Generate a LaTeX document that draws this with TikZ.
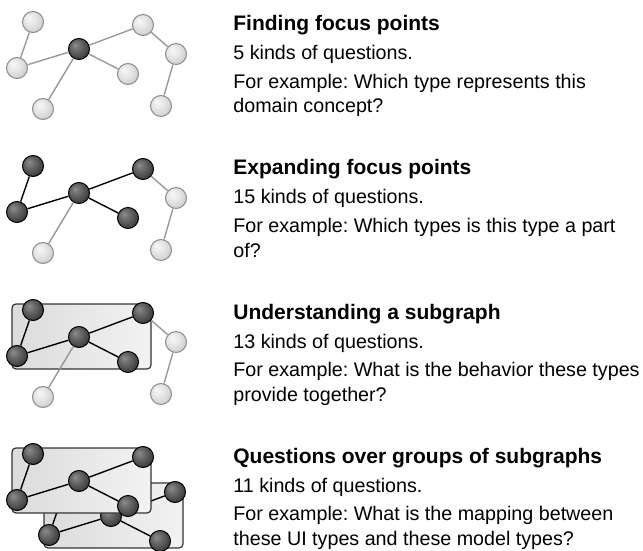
\documentclass[tikz,border=0pt]{standalone}
\usepackage{fontspec}
\setmainfont{Liberation Sans}
\usepackage{tikz}
\frenchspacing

\pgfdeclareradialshading{darkball}{\pgfpoint{-10bp}{10bp}}{color(0bp)=(black!45); color(15bp)=(black!62); color(30bp)=(black!78); color(50bp)=(black!85)}
\pgfdeclareradialshading{lightball}{\pgfpoint{-10bp}{10bp}}{color(0bp)=(black!3); color(15bp)=(black!10); color(30bp)=(black!20); color(50bp)=(black!28)}

\begin{document}
\begin{tikzpicture}[x=0.5pt,y=-0.5pt,
	dark/.style={shape=circle,draw=black,line width=0.5pt,shade,shading=darkball,minimum size=10.5pt,inner sep=0pt},
	light/.style={shape=circle,draw=black!45,line width=0.5pt,shade,shading=lightball,minimum size=10.5pt,inner sep=0pt},
	strong/.style={draw=black,line width=0.7pt},
	faint/.style={draw=black!40,line width=0.7pt},
	group/.style={draw=black!80,line width=0.6pt,rounded corners=2pt,left color=black!14,right color=black!5},
	title/.style={font=\fontsize{10.5}{12.5}\selectfont\bfseries,inner sep=0pt,anchor=base west},
	body/.style={font=\fontsize{9.85}{12.5}\selectfont,inner sep=0pt,anchor=base west,align=left}]
	\useasboundingbox (0,0) rectangle (643,551);

	% finding focus points
	\node[light] (a1) at (33, 22)   {};
	\node[light] (b1) at (17, 68)   {};
	\node[dark]  (c1) at (79, 49)   {};
	\node[light] (d1) at (143, 25)  {};
	\node[light] (e1) at (176, 54)  {};
	\node[light] (f1) at (128, 74)  {};
	\node[light] (g1) at (43, 109)  {};
	\node[light] (h1) at (161, 106) {};

	\path[faint] (a1) edge (b1);
	\path[faint] (b1) edge (c1);
	\path[faint] (c1) edge (d1);
	\path[faint] (d1) edge (e1);
	\path[faint] (e1) edge (h1);
	\path[faint] (c1) edge (f1);
	\path[faint] (c1) edge (g1);

	\node[title] (title1) at (233, 31) {Finding focus points};
	\node[body]  (count1) at (233, 60) {5 kinds of questions.};
	\node[body]  (ex1)    at (233, 113) {For example: Which type represents this\\domain concept?};

	% expanding focus points
	\node[dark]  (a2) at (33, 166)  {};
	\node[dark]  (b2) at (17, 212)  {};
	\node[dark]  (c2) at (79, 193)  {};
	\node[dark]  (d2) at (143, 169) {};
	\node[light] (e2) at (176, 198) {};
	\node[dark]  (f2) at (128, 218) {};
	\node[light] (g2) at (43, 253)  {};
	\node[light] (h2) at (161, 250) {};

	\path[strong] (a2) edge (b2);
	\path[strong] (b2) edge (c2);
	\path[strong] (c2) edge (d2);
	\path[strong] (c2) edge (f2);
	\path[faint] (d2) edge (e2);
	\path[faint] (e2) edge (h2);
	\path[faint] (c2) edge (g2);

	\node[title] (title2) at (233, 175) {Expanding focus points};
	\node[body]  (count2) at (233, 204) {15 kinds of questions.};
	\node[body]  (ex2)    at (233, 257) {For example: Which types is this type a part\\of?};

	% understanding a subgraph
	\draw[group] (12, 304) rectangle (151, 369);
	\node[dark]  (a3) at (33, 310)  {};
	\node[dark]  (b3) at (17, 356)  {};
	\node[dark]  (c3) at (79, 337)  {};
	\node[dark]  (d3) at (143, 313) {};
	\node[light] (e3) at (176, 342) {};
	\node[dark]  (f3) at (128, 362) {};
	\node[light] (g3) at (43, 397)  {};
	\node[light] (h3) at (161, 394) {};

	\path[strong] (a3) edge (b3);
	\path[strong] (b3) edge (c3);
	\path[strong] (c3) edge (d3);
	\path[strong] (c3) edge (f3);
	\path[faint] (d3) edge (e3);
	\path[faint] (e3) edge (h3);
	\path[faint] (c3) edge (g3);

	\node[title] (title3) at (233, 319) {Understanding a subgraph};
	\node[body]  (count3) at (233, 348) {13 kinds of questions.};
	\node[body]  (ex3)    at (233, 401) {For example: What is the behavior these types\\provide together?};

	% groups of subgraphs, the one behind
	\draw[group] (44, 483) rectangle (183, 548);
	\node[dark] (a4b) at (65, 489)  {};
	\node[dark] (b4b) at (49, 535)  {};
	\node[dark] (c4b) at (111, 516) {};
	\node[dark] (d4b) at (175, 492) {};
	\node[dark] (f4b) at (160, 541) {};

	\path[strong] (a4b) edge (b4b);
	\path[strong] (b4b) edge (c4b);
	\path[strong] (c4b) edge (d4b);
	\path[strong] (c4b) edge (f4b);

	% and the one in front
	\draw[group] (12, 448) rectangle (151, 513);
	\node[dark] (a4) at (33, 454)  {};
	\node[dark] (b4) at (17, 500)  {};
	\node[dark] (c4) at (79, 481)  {};
	\node[dark] (d4) at (143, 457) {};
	\node[dark] (f4) at (128, 506) {};

	\path[strong] (a4) edge (b4);
	\path[strong] (b4) edge (c4);
	\path[strong] (c4) edge (d4);
	\path[strong] (c4) edge (f4);

	\node[title] (title4) at (233, 463) {Questions over groups of subgraphs};
	\node[body]  (count4) at (233, 492) {11 kinds of questions.};
	\node[body]  (ex4)    at (233, 545) {For example: What is the mapping between\\these UI types and these model types?};
\end{tikzpicture}
\end{document}
